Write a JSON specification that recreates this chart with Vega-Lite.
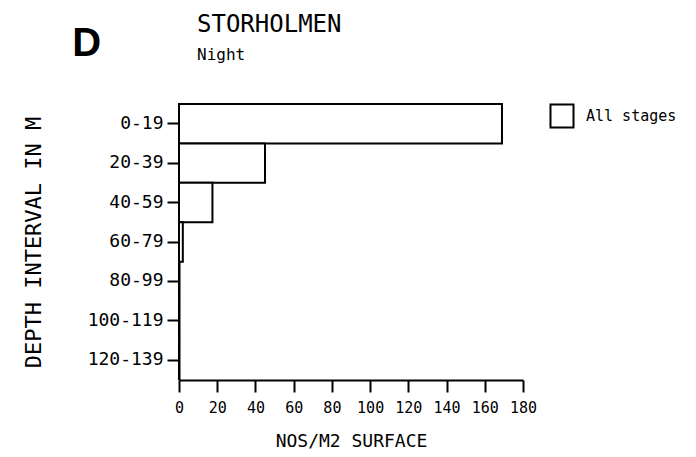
{
  "$schema": "https://vega.github.io/schema/vega-lite/v6.json",
  "autosize": {"type": "pad"},
  "padding": {"left": 22, "top": 13, "right": 0, "bottom": 0},
  "background": "white",
  "title": {"text": "D", "anchor": "start", "font": "Liberation Sans", "fontWeight": "bold", "fontSize": 40, "color": "black", "dx": 50, "dy": 51, "offset": 0},
  "config": {
    "view": {"stroke": null},
    "font": "DejaVu Sans Mono",
    "axis": {"domainColor": "black", "domainWidth": 2, "tickColor": "black", "tickWidth": 2, "labelColor": "black", "titleColor": "black", "labelFont": "DejaVu Sans Mono", "titleFont": "DejaVu Sans Mono", "titleFontWeight": "normal", "grid": false}
  },
  "vconcat": [
    {
      "title": {"text": "STORHOLMEN", "subtitle": "Night", "anchor": "start", "frame": "group", "dx": 18, "font": "DejaVu Sans Mono", "fontSize": 24, "fontWeight": "normal", "color": "black", "subtitleFont": "DejaVu Sans Mono", "subtitleFontSize": 16, "subtitleColor": "black", "subtitlePadding": 10, "offset": 40},
      "width": 344,
      "height": 276,
      "data": {"values": [
        {"depth": "0-19", "value": 169, "stage": "All stages"},
        {"depth": "20-39", "value": 45, "stage": "All stages"},
        {"depth": "40-59", "value": 17.5, "stage": "All stages"},
        {"depth": "60-79", "value": 2, "stage": "All stages"},
        {"depth": "80-99", "value": 0, "stage": "All stages"},
        {"depth": "100-119", "value": 0, "stage": "All stages"},
        {"depth": "120-139", "value": 0, "stage": "All stages"}
      ]},
      "mark": {"type": "bar", "stroke": "black", "strokeWidth": 2},
      "encoding": {
        "y": {"field": "depth", "type": "nominal", "sort": ["0-19", "20-39", "40-59", "60-79", "80-99", "100-119", "120-139"],
          "scale": {"paddingInner": 0, "paddingOuter": 0},
          "axis": {"title": "DEPTH INTERVAL IN M", "titleFontSize": 22, "titlePadding": 42, "labelFontSize": 18, "labelPadding": 4, "tickSize": 12}},
        "x": {"field": "value", "type": "quantitative", "scale": {"domain": [0, 180], "nice": false},
          "axis": {"title": "NOS/M2 SURFACE", "values": [0, 20, 40, 60, 80, 100, 120, 140, 160, 180], "labelOverlap": false, "labelFlush": false, "titleFontSize": 18, "titlePadding": 17, "labelFontSize": 15, "labelPadding": 8, "tickSize": 12}},
        "fill": {"field": "stage", "type": "nominal", "scale": {"range": ["white"]},
          "legend": {"title": null, "orient": "none", "legendX": 370, "legendY": -1, "symbolType": "square", "symbolSize": 530, "symbolStrokeColor": "black", "symbolStrokeWidth": 2, "labelFontSize": 15, "labelColor": "black", "labelOffset": 11, "labelFont": "DejaVu Sans Mono"}}
      }
    }
  ]
}
